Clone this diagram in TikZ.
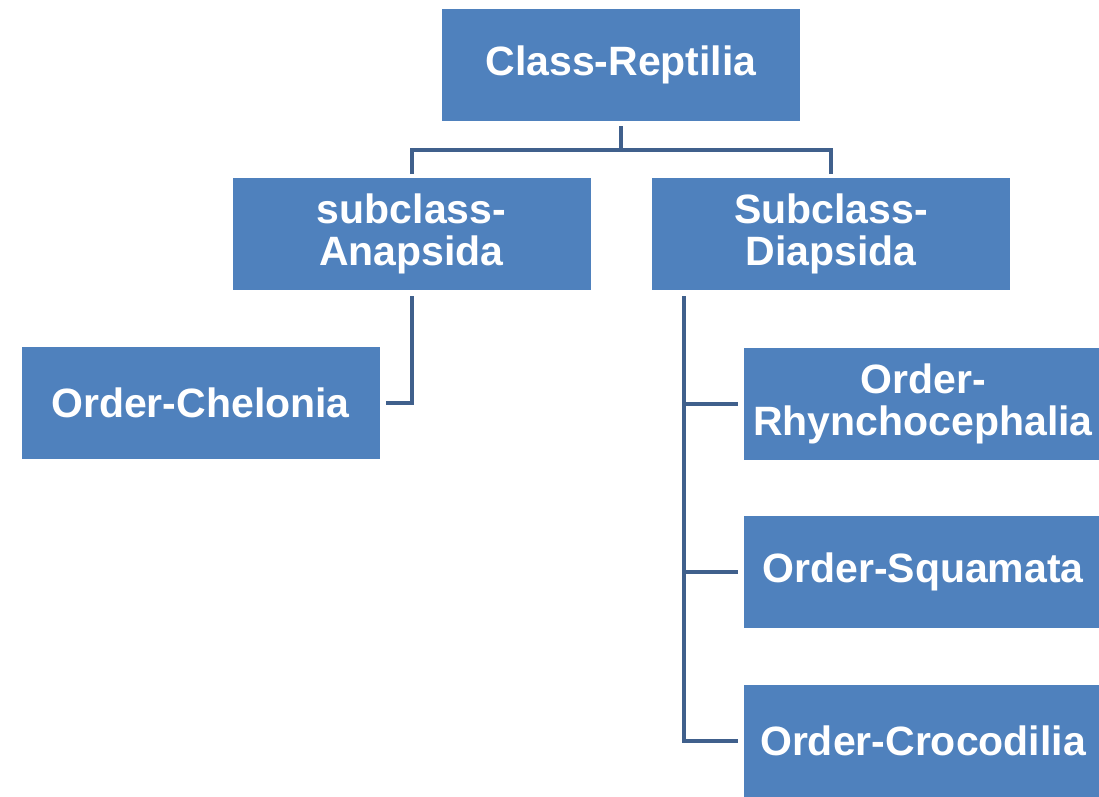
\documentclass[tikz,border=0pt]{standalone}
\usepackage{fontspec}
\setmainfont{Liberation Sans}
\usetikzlibrary{calc}
\definecolor{boxblue}{HTML}{4F81BD}
\definecolor{linecol}{HTML}{40608C}
\tikzset{
  box/.style={rectangle, fill=boxblue, draw=none, minimum width=358pt, minimum height=112pt,
    text=white, font=\fontsize{41pt}{42pt}\selectfont\bfseries, align=center, inner sep=0pt},
  conn/.style={draw=linecol, line width=4pt, line cap=rect}
}
\begin{document}
\begin{tikzpicture}[x=1pt,y=-1pt]
\useasboundingbox[fill=white] (0,0) rectangle (1099,796);
\node[box] (rep) at (621,64.5) {Class-Reptilia};
\node[box] (ana) at (411.5,234) {subclass-\\Anapsida};
\node[box] (dia) at (831,234) {Subclass-\\Diapsida};
\node[box] (che) at (200.5,403) {Order-Chelonia};
\node[box] (rhy) at (923,403.5) {Order-\\Rhynchocephalia};
\node[box] (squ) at (923,572) {Order-Squamata};
\node[box] (cro) at (923,741) {Order-Crocodilia};
\coordinate (bus) at (620,150);
\draw[conn] ([yshift=-7pt]rep.south) -- (rep.south |- bus);
\draw[conn] ([yshift=6pt]ana.north) -- (ana.north |- bus) -- (dia.north |- bus) -- ([yshift=6pt]dia.north);
\draw[conn] ([yshift=-8pt]ana.south) |- ([xshift=8pt]che.east);
\coordinate (dtop) at ([shift={(32pt,-8pt)}]dia.south west);
\draw[conn] (dtop) |- ([xshift=-8pt]cro.west);
\draw[conn] (dtop |- rhy.west) -- ([xshift=-8pt]rhy.west);
\draw[conn] (dtop |- squ.west) -- ([xshift=-8pt]squ.west);
\end{tikzpicture}
\end{document}
